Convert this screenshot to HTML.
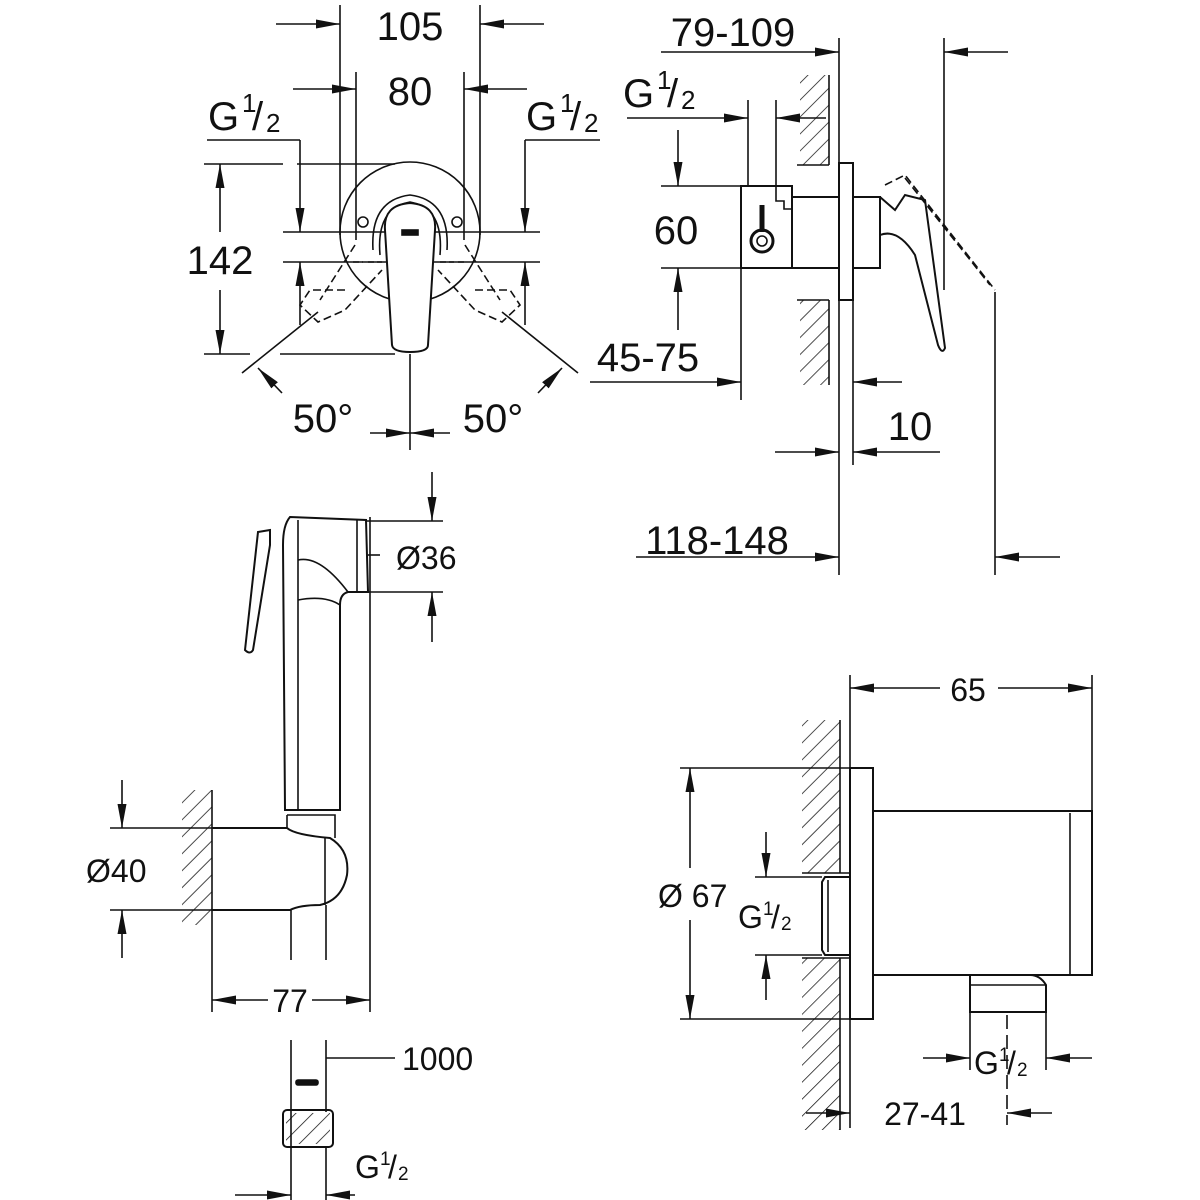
<!DOCTYPE html>
<html><head><meta charset="utf-8"><style>
html,body{margin:0;padding:0;background:#fff}
svg{display:block}
text{font-family:"Liberation Sans",sans-serif;fill:#111}
</style></head><body>
<svg width="1200" height="1200" viewBox="0 0 1200 1200" xmlns="http://www.w3.org/2000/svg">
<defs>
<marker id="a" markerWidth="24" markerHeight="9" refX="24" refY="4.5" orient="auto" markerUnits="userSpaceOnUse"><path d="M0,0 L24,4.5 L0,9 z" fill="#111"/></marker>
<pattern id="h" width="12" height="12" patternUnits="userSpaceOnUse" patternTransform="rotate(45)"><line x1="0" y1="0" x2="0" y2="12" stroke="#111" stroke-width="1.5"/></pattern>
</defs>
<g stroke="#111" stroke-width="1.6" fill="none">
<!-- ===== TOP LEFT FRONT VIEW ===== -->
<line x1="340" y1="5" x2="340" y2="235"/><line x1="480" y1="5" x2="480" y2="235"/>
<line x1="276" y1="24" x2="340" y2="24" marker-end="url(#a)"/><line x1="544" y1="24" x2="480" y2="24" marker-end="url(#a)"/>
<line x1="356" y1="72" x2="356" y2="240"/><line x1="464" y1="72" x2="464" y2="240"/>
<line x1="293" y1="89" x2="356" y2="89" marker-end="url(#a)"/><line x1="527" y1="89" x2="464" y2="89" marker-end="url(#a)"/>
<polyline points="207,140 300,140"/><line x1="300" y1="140" x2="300" y2="232" marker-end="url(#a)"/>
<polyline points="525,140 600,140"/><line x1="525" y1="140" x2="525" y2="232" marker-end="url(#a)"/>
<line x1="283" y1="232" x2="540" y2="232"/><line x1="283" y1="262" x2="540" y2="262"/>
<line x1="300" y1="325" x2="300" y2="262" marker-end="url(#a)"/><line x1="525" y1="325" x2="525" y2="262" marker-end="url(#a)"/>
<line x1="204" y1="164" x2="283" y2="164"/><line x1="297" y1="164" x2="395" y2="164"/>
<line x1="204" y1="354" x2="250" y2="354"/><line x1="280" y1="354" x2="395" y2="354"/>
<line x1="220" y1="232" x2="220" y2="164" marker-end="url(#a)"/><line x1="220" y1="290" x2="220" y2="354" marker-end="url(#a)"/>
<circle cx="410" cy="232" r="70"/>
<path d="M373,250 Q370,200 410,195 Q450,200 447,250" />
<path d="M380,255 Q376,208 410,202 Q444,208 440,255" />
<path d="M353,262 h10 M368,262 h14 M440,262 h14 M458,262 h8" stroke-dasharray="6,3"/>
<circle cx="363" cy="222" r="5"/><circle cx="457" cy="222" r="5"/>
<path d="M385,230 Q383,205 410,203 Q437,205 435,230 L428,345 Q428,352 410,352 Q393,352 392,345 Z" fill="#fff" stroke-width="2"/>
<rect x="402" y="230" width="16" height="5" fill="#111"/>
<path d="M355,245 L320,300 M345,290 L310,290 L300,305 L318,322 L345,310 L382,270" stroke-dasharray="8,4"/>
<path d="M465,245 L500,300 M475,290 L510,290 L520,305 L502,322 L475,310 L438,270" stroke-dasharray="8,4"/>
<line x1="410" y1="354" x2="410" y2="450"/>
<line x1="318" y1="312" x2="242" y2="373"/><line x1="502" y1="312" x2="578" y2="373"/>
<line x1="282" y1="393" x2="258" y2="368" marker-end="url(#a)"/>
<line x1="538" y1="393" x2="562" y2="368" marker-end="url(#a)"/>
<line x1="370" y1="433" x2="410" y2="433" marker-end="url(#a)"/><line x1="450" y1="433" x2="410" y2="433" marker-end="url(#a)"/>

<!-- ===== TOP RIGHT SIDE VIEW ===== -->
<line x1="839" y1="38" x2="839" y2="575"/>
<line x1="944" y1="38" x2="944" y2="290"/>
<line x1="661" y1="52" x2="839" y2="52" marker-end="url(#a)"/>
<line x1="1008" y1="52" x2="944" y2="52" marker-end="url(#a)"/>
<line x1="627" y1="118" x2="748" y2="118" marker-end="url(#a)"/>
<line x1="748" y1="100" x2="748" y2="186"/><line x1="776" y1="100" x2="776" y2="186"/>
<line x1="826" y1="118" x2="776" y2="118" marker-end="url(#a)"/>
<rect x="800" y="75" width="29" height="90" fill="url(#h)" stroke="none"/>
<rect x="800" y="300" width="29" height="85" fill="url(#h)" stroke="none"/>
<line x1="829" y1="75" x2="829" y2="165"/><line x1="829" y1="300" x2="829" y2="385"/>
<line x1="797" y1="165" x2="829" y2="165"/><line x1="797" y1="300" x2="829" y2="300"/>
<rect x="741" y="186" width="51" height="82" stroke-width="2"/>
<path d="M776,186 v15 h8 v8 h8"/>
<rect x="792" y="197" width="47" height="71" stroke-width="2"/>
<rect x="839" y="163" width="14" height="137" stroke-width="2"/>
<rect x="853" y="197" width="27" height="71" stroke-width="2"/>
<circle cx="762" cy="241" r="11" stroke-width="3"/><circle cx="762" cy="241" r="5"/>
<line x1="762" y1="205" x2="762" y2="232" stroke-width="5"/>
<path d="M880,197 L895,210 L905,195 L925,200 L945,348 Q942,355 938,345 L915,255 Q898,228 880,235" stroke-width="2"/>
<path d="M885,185 L905,175 L995,290 M905,178 L990,285" stroke-dasharray="8,4"/>
<line x1="661" y1="186" x2="741" y2="186"/><line x1="661" y1="268" x2="741" y2="268"/>
<line x1="678" y1="130" x2="678" y2="186" marker-end="url(#a)"/><line x1="678" y1="330" x2="678" y2="268" marker-end="url(#a)"/>
<line x1="590" y1="382" x2="741" y2="382" marker-end="url(#a)"/><line x1="741" y1="268" x2="741" y2="400"/>
<line x1="853" y1="300" x2="853" y2="465"/>
<line x1="902" y1="382" x2="853" y2="382" marker-end="url(#a)"/>
<line x1="775" y1="452" x2="839" y2="452" marker-end="url(#a)"/>
<line x1="940" y1="452" x2="853" y2="452" marker-end="url(#a)"/>
<line x1="995" y1="292" x2="995" y2="575"/>
<line x1="636" y1="557" x2="839" y2="557" marker-end="url(#a)"/>
<line x1="1060" y1="557" x2="995" y2="557" marker-end="url(#a)"/>

<!-- ===== HAND SHOWER ===== -->
<line x1="367" y1="521" x2="443" y2="521"/><line x1="367" y1="592" x2="443" y2="592"/>
<line x1="432" y1="472" x2="432" y2="521" marker-end="url(#a)"/><line x1="432" y1="642" x2="432" y2="592" marker-end="url(#a)"/>
<line x1="370" y1="517" x2="370" y2="1012"/>
<line x1="368" y1="555" x2="380" y2="555"/>
<path d="M290,517 L366,520 L368,592 L348,592 Q340,594 340,605 L340,810 L285,810 L283,545 Q283,525 290,517 Z" stroke-width="2"/>
<line x1="357" y1="520" x2="357" y2="592"/>
<line x1="298" y1="520" x2="298" y2="810"/>
<path d="M298,560 Q320,555 348,592"/>
<path d="M298,600 Q325,595 340,605"/>
<path d="M270,530 L258,532 L245,650 Q250,655 253,650 L270,545 Z" stroke-width="2"/>
<rect x="182" y="790" width="30" height="135" fill="url(#h)" stroke="none"/>
<line x1="212" y1="790" x2="212" y2="1012"/>
<line x1="110" y1="828" x2="212" y2="828"/><line x1="110" y1="910" x2="212" y2="910"/>
<path d="M212,828 L287,828 Q295,835 330,838 Q350,850 347,875 Q342,900 320,905 Q300,905 290,910 L212,910" stroke-width="2"/>
<path d="M287,815 L335,815 L335,838 M287,828 L287,815"/>
<line x1="325" y1="838" x2="325" y2="905"/>
<path d="M291,910 L291,960 M326,905 L326,960"/>
<line x1="122" y1="780" x2="122" y2="828" marker-end="url(#a)"/><line x1="122" y1="958" x2="122" y2="910" marker-end="url(#a)"/>
<line x1="268" y1="1000" x2="212" y2="1000" marker-end="url(#a)"/>
<line x1="312" y1="1000" x2="370" y2="1000" marker-end="url(#a)"/>
<path d="M291,1040 L291,1200 M326,1040 L326,1112 M326,1147 L326,1200"/>
<line x1="326" y1="1058" x2="395" y2="1058"/>
<rect x="296" y="1080" width="22" height="5" rx="2" fill="#111"/>
<rect x="283" y="1110" width="50" height="37" rx="4" stroke-width="2"/>
<rect x="286" y="1113" width="44" height="31" fill="url(#h)" stroke="none"/>
<line x1="235" y1="1195" x2="291" y2="1195" marker-end="url(#a)"/>
<line x1="355" y1="1195" x2="326" y2="1195" marker-end="url(#a)"/>

<!-- ===== WALL OUTLET ===== -->
<line x1="850" y1="675" x2="850" y2="1128"/><line x1="1092" y1="675" x2="1092" y2="812"/>
<line x1="940" y1="688" x2="850" y2="688" marker-end="url(#a)"/>
<line x1="998" y1="688" x2="1092" y2="688" marker-end="url(#a)"/>
<rect x="802" y="720" width="38" height="153" fill="url(#h)" stroke="none"/>
<rect x="802" y="958" width="38" height="172" fill="url(#h)" stroke="none"/>
<line x1="840" y1="720" x2="840" y2="873"/><line x1="840" y1="958" x2="840" y2="1130"/>
<line x1="802" y1="873" x2="850" y2="873"/><line x1="802" y1="958" x2="850" y2="958"/>
<rect x="850" y="768" width="23" height="251" stroke-width="2"/>
<rect x="873" y="811" width="219" height="164" stroke-width="2"/>
<line x1="1070" y1="813" x2="1070" y2="975"/>
<path d="M970,975 L970,1012 L1046,1012 L1046,985 Q1040,975 1030,975" stroke-width="2"/>
<line x1="970" y1="985" x2="1046" y2="985"/>
<path d="M850,877 L825,877 L822,882 L822,950 L825,955 L850,955" stroke-width="2"/>
<line x1="828" y1="880" x2="828" y2="952"/>
<line x1="680" y1="768" x2="850" y2="768"/><line x1="680" y1="1019" x2="850" y2="1019"/>
<line x1="690" y1="868" x2="690" y2="768" marker-end="url(#a)"/><line x1="690" y1="920" x2="690" y2="1019" marker-end="url(#a)"/>
<line x1="755" y1="877" x2="822" y2="877"/><line x1="755" y1="955" x2="822" y2="955"/>
<line x1="766" y1="832" x2="766" y2="877" marker-end="url(#a)"/><line x1="766" y1="1000" x2="766" y2="955" marker-end="url(#a)"/>
<line x1="970" y1="1012" x2="970" y2="1070"/><line x1="1046" y1="1012" x2="1046" y2="1070"/>
<line x1="923" y1="1058" x2="970" y2="1058" marker-end="url(#a)"/>
<line x1="1092" y1="1058" x2="1046" y2="1058" marker-end="url(#a)"/>
<line x1="1007" y1="1015" x2="1007" y2="1125" stroke-dasharray="14,6"/>
<line x1="806" y1="1113" x2="850" y2="1113" marker-end="url(#a)"/>
<line x1="1052" y1="1113" x2="1007" y2="1113" marker-end="url(#a)"/>
</g>

<g font-size="40">
<text x="410" y="40" text-anchor="middle">105</text>
<text x="410" y="105" text-anchor="middle">80</text>
<text x="208" y="130">G</text><text x="242" y="112" font-size="26">1</text><text x="252" y="130">/</text><text x="266" y="132" font-size="26">2</text>
<text x="526" y="130">G</text><text x="560" y="112" font-size="26">1</text><text x="570" y="130">/</text><text x="584" y="132" font-size="26">2</text>
<text x="220" y="274" text-anchor="middle">142</text>
<text x="323" y="432" text-anchor="middle">50°</text>
<text x="493" y="432" text-anchor="middle">50°</text>
<text x="733" y="46" text-anchor="middle">79-109</text>
<text x="623" y="107">G</text><text x="657" y="89" font-size="26">1</text><text x="667" y="107">/</text><text x="681" y="109" font-size="26">2</text>
<text x="676" y="244" text-anchor="middle">60</text>
<text x="648" y="371" text-anchor="middle">45-75</text>
<text x="910" y="440" text-anchor="middle">10</text>
<text x="717" y="554" text-anchor="middle">118-148</text>
</g>
<g font-size="32">
<text x="396" y="569">Ø36</text>
<text x="86" y="882">Ø40</text>
<text x="290" y="1012" text-anchor="middle">77</text>
<text x="402" y="1070">1000</text>
<text x="355" y="1178">G</text><text x="380" y="1165" font-size="19">1</text><text x="388" y="1178">/</text><text x="398" y="1180" font-size="19">2</text>
<text x="968" y="701" text-anchor="middle">65</text>
<text x="658" y="907">Ø 67</text>
<text x="738" y="928">G</text><text x="763" y="915" font-size="19">1</text><text x="771" y="928">/</text><text x="781" y="930" font-size="19">2</text>
<text x="974" y="1074">G</text><text x="999" y="1061" font-size="19">1</text><text x="1007" y="1074">/</text><text x="1017" y="1076" font-size="19">2</text>
<text x="925" y="1125" text-anchor="middle">27-41</text>
</g>
</svg>
</body></html>
